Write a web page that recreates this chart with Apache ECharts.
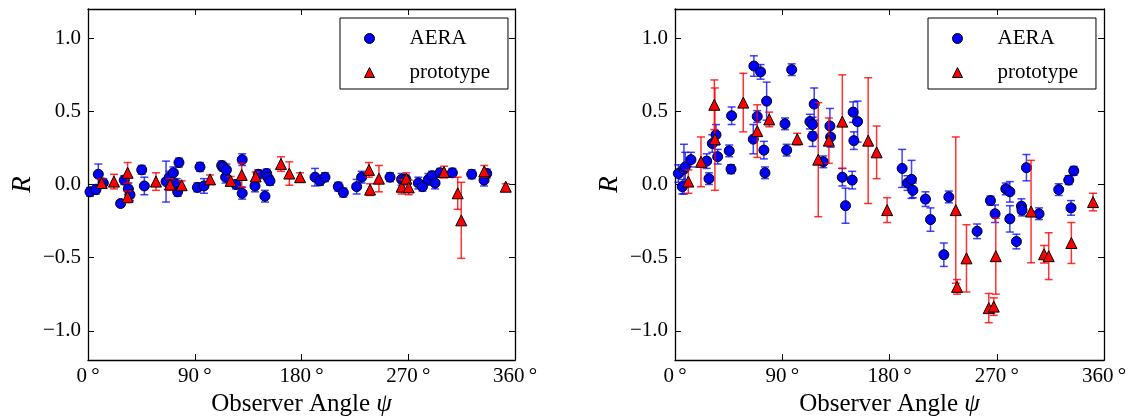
<!DOCTYPE html>
<html><head><meta charset="utf-8">
<script src="https://cdn.jsdelivr.net/npm/echarts@6/dist/echarts.min.js"></script>
<style>html,body{margin:0;padding:0;background:#fff}#c{width:1128px;height:417px}</style>
</head><body><div id="c"></div>
<script>
// ---- tick labels ----
const xTicks = [0, 90, 180, 270, 360];
const xTickLabels = ['0\u2009°', '90\u2009°', '180\u2009°', '270\u2009°', '360\u2009°'];
const yTicks = [-1, -0.5, 0, 0.5, 1];
const yTickLabels = ['\u22121.0', '\u22120.5', '0.0', '0.5', '1.0'];
const seriesNames = ['AERA', 'prototype'];

// ---- left panel: AERA ----
const leftAeraAngle = [1.7, 6.7, 8.7, 12.9, 27.5, 30.6, 34.0, 35.4, 45.3, 47.5, 65.8, 68.6, 72.0, 74.8, 75.6, 76.7, 92.2, 94.4, 97.8, 112.7, 114.0, 116.0, 116.7, 124.8, 130.0, 130.0, 140.8, 143.6, 149.2, 150.6, 151.5, 153.4, 191.4, 195.6, 199.8, 211.0, 215.3, 226.5, 230.7, 254.6, 264.4, 268.0, 278.5, 282.0, 287.0, 290.0, 292.6, 296.8, 307.2, 323.5, 333.9, 336.2];
const leftAeraR = [-0.05, -0.035, 0.07, 0.01, -0.13, 0.03, -0.03, -0.07, 0.10, -0.01, 0.02, 0.05, 0.08, 0.00, -0.05, 0.15, -0.02, 0.12, -0.01, 0.13, 0.12, 0.05, 0.10, 0.00, 0.17, -0.06, -0.01, 0.07, -0.08, 0.075, 0.05, 0.025, 0.05, 0.025, 0.05, -0.015, -0.055, -0.015, 0.05, 0.05, 0.035, 0.035, 0.01, -0.015, 0.035, 0.06, 0.01, 0.08, 0.08, 0.07, 0.03, 0.075];
const leftAeraErr = [0.03, 0.03, 0.07, 0.03, 0.02, 0.03, 0.04, 0.04, 0.03, 0.06, 0.14, 0.04, 0.04, 0.04, 0.03, 0.03, 0.03, 0.03, 0.05, 0.03, 0.03, 0.04, 0.04, 0.03, 0.04, 0.04, 0.04, 0.03, 0.04, 0.03, 0.03, 0.03, 0.06, 0.03, 0.03, 0.03, 0.03, 0.05, 0.04, 0.03, 0.04, 0.03, 0.04, 0.03, 0.04, 0.03, 0.04, 0.03, 0.03, 0.03, 0.04, 0.03];

// ---- left panel: prototype ----
const leftProtoAngle = [11.5, 21.9, 33.4, 33.4, 57.3, 69.1, 79.0, 102.9, 120.3, 129.6, 141.4, 162.7, 169.7, 178.8, 236.9, 237.8, 245.3, 264.4, 268.4, 270.4, 300.2, 311.7, 314.7, 334.1, 352.2];
const leftProtoR = [0.01, 0.02, 0.08, -0.085, 0.02, 0.0, -0.005, 0.035, 0.025, 0.065, 0.055, 0.14, 0.075, 0.05, 0.10, -0.035, 0.04, -0.015, 0.04, -0.02, 0.085, -0.06, -0.245, 0.09, -0.015];
const leftProtoErr = [0.03, 0.05, 0.07, 0.04, 0.06, 0.04, 0.03, 0.03, 0.03, 0.08, 0.03, 0.05, 0.08, 0.03, 0.05, 0.04, 0.09, 0.05, 0.04, 0.05, 0.04, 0.11, 0.26, 0.04, 0.02];

// ---- right panel: AERA ----
const rightAeraAngle = [2.8, 6.1, 7.5, 8.6, 13.4, 26.6, 28.5, 31.3, 34.4, 35.8, 45.5, 47.0, 47.5, 65.7, 66.2, 69.0, 71.8, 74.6, 75.5, 76.9, 92.3, 93.7, 97.9, 113.2, 115.5, 115.5, 116.8, 124.4, 130.0, 130.6, 140.4, 143.1, 148.7, 149.5, 150.1, 153.2, 190.6, 195.1, 198.5, 199.6, 210.2, 214.4, 225.6, 229.8, 253.5, 264.7, 268.6, 277.6, 281.0, 281.0, 286.5, 290.7, 291.2, 294.9, 305.5, 322.0, 330.4, 332.3, 334.6];
const rightAeraR = [0.075, -0.015, 0.105, 0.12, 0.17, 0.16, 0.04, 0.28, 0.34, 0.19, 0.23, 0.105, 0.47, 0.31, 0.81, 0.465, 0.77, 0.235, 0.08, 0.57, 0.415, 0.235, 0.785, 0.43, 0.41, 0.33, 0.55, 0.155, 0.40, 0.325, 0.05, -0.145, 0.03, 0.495, 0.30, 0.43, 0.11, 0.01, 0.035, -0.04, -0.10, -0.24, -0.48, -0.085, -0.32, -0.11, -0.20, -0.03, -0.05, -0.235, -0.39, -0.148, -0.175, 0.115, -0.20, -0.035, 0.03, -0.16, 0.093];
const rightAeraErr = [0.06, 0.05, 0.17, 0.10, 0.05, 0.05, 0.04, 0.06, 0.07, 0.05, 0.04, 0.03, 0.06, 0.10, 0.07, 0.04, 0.05, 0.06, 0.04, 0.13, 0.04, 0.04, 0.04, 0.05, 0.05, 0.07, 0.11, 0.04, 0.12, 0.07, 0.06, 0.12, 0.06, 0.07, 0.06, 0.14, 0.13, 0.05, 0.13, 0.05, 0.05, 0.08, 0.08, 0.04, 0.05, 0.03, 0.06, 0.04, 0.07, 0.09, 0.05, 0.05, 0.04, 0.09, 0.04, 0.04, 0.03, 0.05, 0.03];

// ---- right panel: prototype ----
const rightProtoAngle = [11.2, 21.8, 33.0, 33.5, 57.3, 69.0, 79.1, 102.6, 120.2, 129.1, 140.4, 162.1, 169.2, 178.0, 235.6, 236.7, 244.6, 263.3, 267.5, 269.2, 298.8, 309.7, 313.6, 332.6, 350.8];
const rightProtoR = [0.02, 0.155, 0.545, 0.31, 0.56, 0.365, 0.445, 0.31, 0.17, 0.30, 0.43, 0.30, 0.22, -0.175, -0.175, -0.70, -0.505, -0.845, -0.835, -0.49, -0.185, -0.477, -0.49, -0.40, -0.12];
const rightProtoErr = [0.08, 0.17, 0.17, 0.35, 0.20, 0.18, 0.05, 0.04, 0.39, 0.155, 0.32, 0.43, 0.18, 0.085, 0.50, 0.05, 0.23, 0.10, 0.06, 0.26, 0.35, 0.06, 0.16, 0.14, 0.06];

const SERIF = '"Liberation Serif", "DejaVu Serif", serif';
const BLUE = '#0000ff', RED = '#ff0000';
const BLUE_BAR = 'rgba(0,0,255,0.75)', RED_BAR = 'rgba(255,0,0,0.8)';

function pts(a, r) { return a.map((v, i) => [v, r[i]]); }
function errSeries(name, a, r, e, color, ax, z) {
  return {
    type: 'custom', name: name, xAxisIndex: ax, yAxisIndex: ax, z: z, silent: true,
    data: a.map((v, i) => [v, r[i] - e[i], r[i] + e[i]]),
    encode: { x: 0, y: [1, 2] },
    renderItem: function (params, api) {
      const x = api.value(0);
      const lo = api.coord([x, api.value(1)]);
      const hi = api.coord([x, api.value(2)]);
      const w = 4;
      const st = { stroke: color, lineWidth: 1.5 };
      return { type: 'group', children: [
        { type: 'line', shape: { x1: lo[0], y1: lo[1], x2: hi[0], y2: hi[1] }, style: st },
        { type: 'line', shape: { x1: lo[0] - w, y1: lo[1], x2: lo[0] + w, y2: lo[1] }, style: st },
        { type: 'line', shape: { x1: hi[0] - w, y1: hi[1], x2: hi[0] + w, y2: hi[1] }, style: st }
      ] };
    }
  };
}
function scat(name, a, r, ax, sym, size, color, z) {
  return {
    type: 'scatter', name: name, xAxisIndex: ax, yAxisIndex: ax, z: z,
    symbol: sym, symbolSize: size, data: pts(a, r),
    itemStyle: { color: color, borderColor: '#000', borderWidth: 1, opacity: 1 },
    emphasis: { disabled: true }
  };
}

const lineStyle = { color: '#000', width: 1.3 };
function xAx(grid, pos, labels) {
  return {
    type: 'value', gridIndex: grid, position: pos, min: 0, max: 360,
    axisLine: { show: true, onZero: false, lineStyle: lineStyle },
    axisTick: { show: true, inside: true, length: 6, customValues: xTicks, lineStyle: { color: '#000', width: 1 } },
    axisLabel: { show: labels, customValues: xTicks, margin: 6, color: '#000', fontFamily: SERIF, fontSize: 21,
      formatter: v => xTickLabels[xTicks.indexOf(v)] },
    splitLine: { show: false },
    name: labels ? '{n|Observer Angle }{i|ψ}' : '',
    nameLocation: 'middle', nameGap: 25,
    nameTextStyle: { rich: {
      n: { fontFamily: SERIF, fontSize: 25, color: '#000' },
      i: { fontFamily: SERIF, fontSize: 25, fontStyle: 'italic', color: '#000' } } }
  };
}
function yAx(grid, pos, labels) {
  return {
    type: 'value', gridIndex: grid, position: pos, min: -1.2, max: 1.2,
    axisLine: { show: true, onZero: false, lineStyle: lineStyle },
    axisTick: { show: true, inside: true, length: 6, customValues: yTicks, lineStyle: { color: '#000', width: 1 } },
    axisLabel: { show: labels, customValues: yTicks, margin: 7, color: '#000', fontFamily: SERIF, fontSize: 21,
      formatter: v => yTickLabels[yTicks.indexOf(v)] },
    splitLine: { show: false },
    name: labels ? 'R' : '',
    nameLocation: 'middle', nameRotate: 90, nameGap: 52,
    nameTextStyle: { fontFamily: SERIF, fontSize: 27, fontStyle: 'italic', color: '#000' }
  };
}
function legend(left) {
  return {
    orient: 'vertical', left: left, top: 18,
    padding: [10, 18, 6, 24], itemGap: 13, itemWidth: 10, itemHeight: 10,
    borderColor: '#000', borderWidth: 1, borderRadius: 0, backgroundColor: '#fff',
    selectedMode: false,
    textStyle: { fontFamily: SERIF, fontSize: 21, color: '#000', lineHeight: 20, padding: [0, 0, 0, 30] },
    data: [
      { name: seriesNames[0], icon: 'circle', itemStyle: { color: BLUE, borderColor: '#000', borderWidth: 1 } },
      { name: seriesNames[1], icon: 'triangle', itemStyle: { color: RED, borderColor: '#000', borderWidth: 1 } }
    ]
  };
}

const option = {
  animation: false,
  backgroundColor: '#fff',
  grid: [
    { left: 88, top: 9, width: 427, height: 351, outerBoundsMode: 'none', containLabel: false },
    { left: 675, top: 9, width: 429, height: 351, outerBoundsMode: 'none', containLabel: false }
  ],
  xAxis: [xAx(0, 'bottom', true), xAx(1, 'bottom', true), xAx(0, 'top', false), xAx(1, 'top', false)],
  yAxis: [yAx(0, 'left', true), yAx(1, 'left', true), yAx(0, 'right', false), yAx(1, 'right', false)],
  legend: [legend(340), legend(928)],
  series: [
    scat(seriesNames[0], leftAeraAngle, leftAeraR, 0, 'circle', 10, BLUE, 2),
    scat(seriesNames[1], leftProtoAngle, leftProtoR, 0, 'triangle', 11, RED, 4),
    scat(seriesNames[0], rightAeraAngle, rightAeraR, 1, 'circle', 10, BLUE, 2),
    scat(seriesNames[1], rightProtoAngle, rightProtoR, 1, 'triangle', 11, RED, 4),
    errSeries(seriesNames[0], leftAeraAngle, leftAeraR, leftAeraErr, BLUE_BAR, 0, 1),
    errSeries(seriesNames[1], leftProtoAngle, leftProtoR, leftProtoErr, RED_BAR, 0, 3),
    errSeries(seriesNames[0], rightAeraAngle, rightAeraR, rightAeraErr, BLUE_BAR, 1, 1),
    errSeries(seriesNames[1], rightProtoAngle, rightProtoR, rightProtoErr, RED_BAR, 1, 3)
  ]
};
const chart = echarts.init(document.getElementById('c'), null, { renderer: 'canvas' });
chart.setOption(option);
</script></body></html>
